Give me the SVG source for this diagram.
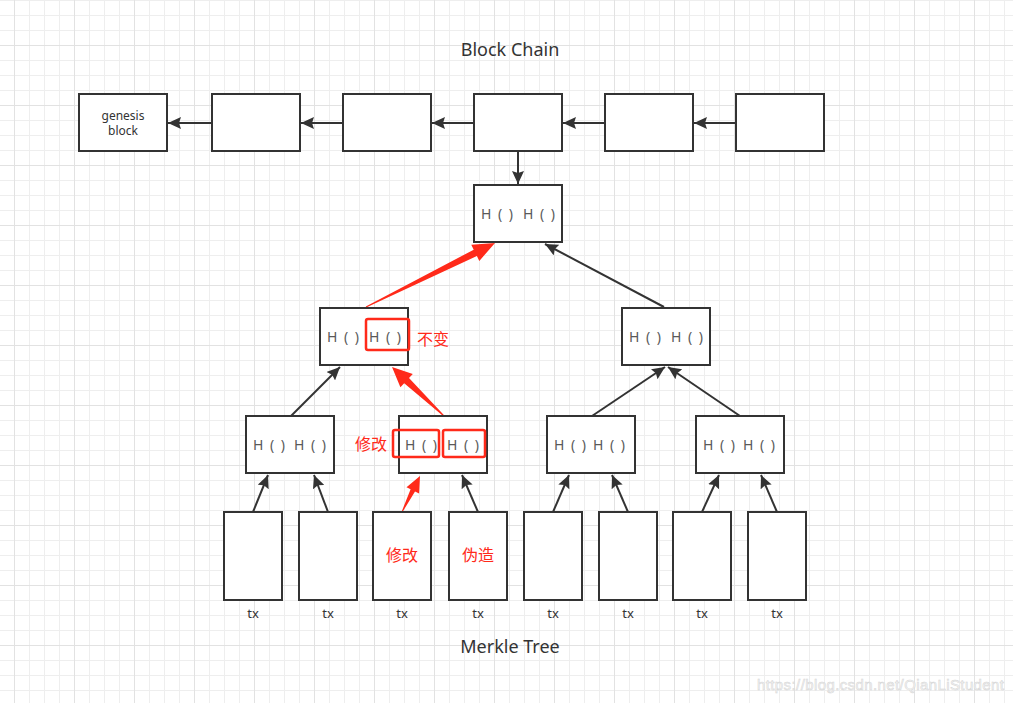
<svg xmlns="http://www.w3.org/2000/svg" width="1013" height="703" viewBox="0 0 1013 703">
<defs>
<pattern id="minor" patternUnits="userSpaceOnUse" x="14" y="0" width="15" height="15"><path d="M0.5 0V15M0 0.5H15" stroke="#eeeeee" stroke-width="1" fill="none"/></pattern>
<pattern id="major" patternUnits="userSpaceOnUse" x="74" y="45" width="60" height="60"><path d="M0.5 0V60M0 0.5H60" stroke="#e2e2e2" stroke-width="1" fill="none"/></pattern>
<marker id="ah" markerUnits="userSpaceOnUse" markerWidth="14" markerHeight="12" refX="13" refY="6" orient="auto"><path d="M0,0 L13,6 L0,12 L2,6 z" fill="#333"/></marker>
<style>
.box{fill:#fff;stroke:#333;stroke-width:2}
.hb{fill:none;stroke:#ff2a1a;stroke-width:2.5}
.ln{stroke:#333;stroke-width:2;fill:none;marker-end:url(#ah)}
.red{fill:#ff2a1a}
.h{font-family:"Noto Sans","Liberation Sans",sans-serif;font-size:14px;fill:#5a5a5a;letter-spacing:1.5px}
.t{font-family:"Noto Sans","Liberation Sans",sans-serif;fill:#333;text-anchor:middle}
.cn{font-family:"Noto Sans CJK SC",sans-serif;font-size:16px;fill:#ff2a1a}
</style>
</defs>
<rect width="1013" height="703" fill="#fff"/>
<rect width="1013" height="703" fill="url(#minor)"/>
<rect width="1013" height="703" fill="url(#major)"/>

<text class="t" x="510" y="56" font-size="18">Block Chain</text>
<text class="t" x="510" y="653" font-size="18">Merkle Tree</text>

<g id="connectors">
<line class="ln" x1="212" y1="123" x2="168" y2="123"/>
<line class="ln" x1="343" y1="123" x2="301" y2="123"/>
<line class="ln" x1="474" y1="123" x2="432" y2="123"/>
<line class="ln" x1="605" y1="123" x2="563" y2="123"/>
<line class="ln" x1="736" y1="123" x2="694" y2="123"/>
<line class="ln" x1="518" y1="152" x2="518" y2="184"/>
<line class="ln" x1="664" y1="307" x2="545" y2="244"/>
<line class="ln" x1="291" y1="416" x2="340" y2="367"/>
<line class="ln" x1="592" y1="416" x2="665" y2="367"/>
<line class="ln" x1="740" y1="416" x2="668" y2="367"/>
<line class="ln" x1="253" y1="512" x2="268" y2="475"/>
<line class="ln" x1="328" y1="512" x2="314" y2="475"/>
<line class="ln" x1="478" y1="512" x2="462" y2="475"/>
<line class="ln" x1="553" y1="512" x2="569" y2="475"/>
<line class="ln" x1="628" y1="512" x2="612" y2="475"/>
<line class="ln" x1="702" y1="512" x2="719" y2="475"/>
<line class="ln" x1="777" y1="512" x2="761" y2="475"/>
<polygon class="red" points="366.2,307.4 476.9,255.9 479.3,260.9 495,243 471.3,244.7 473.7,249.7 365.8,306.6"/>
<polygon class="red" points="444.3,415.6 409.0,378.1 412.8,374.1 392,367 400.4,387.3 404.2,383.3 443.7,416.4"/>
<polygon class="red" points="402.4,512.2 415.0,491.4 419.1,493.4 420,476 406.5,487.2 410.6,489.2 401.6,511.8"/>
</g>

<g id="genesis"><rect class="box" x="79" y="94" width="88" height="57"/><text class="t" x="123" y="120" font-size="12">genesis</text><text class="t" x="123" y="135" font-size="12">block</text></g>
<g id="block2"><rect class="box" x="212" y="94" width="88" height="57"/></g>
<g id="block3"><rect class="box" x="343" y="94" width="88" height="57"/></g>
<g id="block4"><rect class="box" x="474" y="94" width="88" height="57"/></g>
<g id="block5"><rect class="box" x="605" y="94" width="88" height="57"/></g>
<g id="block6"><rect class="box" x="736" y="94" width="88" height="57"/></g>

<g id="root"><rect class="box" x="474" y="185" width="88" height="57"/><text class="h" x="481" y="219">H ( )</text><text class="h" x="523" y="219">H ( )</text></g>

<g id="l2left"><rect class="box" x="320" y="308" width="88" height="57"/><text class="h" x="327" y="342">H ( )</text><text class="h" x="369" y="342">H ( )</text><rect class="hb" x="366" y="319" width="43" height="31" rx="2"/><text class="cn" x="417" y="345">不变</text></g>
<g id="l2right"><rect class="box" x="622" y="308" width="88" height="57"/><text class="h" x="629" y="342">H ( )</text><text class="h" x="671" y="342">H ( )</text></g>

<g id="l3a"><rect class="box" x="246" y="416" width="88" height="57"/><text class="h" x="253" y="450">H ( )</text><text class="h" x="294" y="450">H ( )</text></g>
<g id="l3b"><rect class="box" x="399" y="416" width="88" height="57"/><text class="h" x="405" y="450">H ( )</text><text class="h" x="447" y="450">H ( )</text><rect class="hb" x="393" y="430" width="46" height="27" rx="2"/><rect class="hb" x="443" y="430" width="42" height="27" rx="2"/><text class="cn" x="355" y="450">修改</text></g>
<g id="l3c"><rect class="box" x="547" y="416" width="88" height="57"/><text class="h" x="554" y="450">H ( )</text><text class="h" x="593" y="450">H ( )</text></g>
<g id="l3d"><rect class="box" x="696" y="416" width="88" height="57"/><text class="h" x="703" y="450">H ( )</text><text class="h" x="743" y="450">H ( )</text></g>

<g id="tx1"><rect class="box" x="224" y="512" width="58" height="88"/><text class="t" x="253" y="618" font-size="13">tx</text></g>
<g id="tx2"><rect class="box" x="299" y="512" width="58" height="88"/><text class="t" x="328" y="618" font-size="13">tx</text></g>
<g id="tx3"><rect class="box" x="373" y="512" width="58" height="88"/><text class="cn" x="402" y="561" text-anchor="middle">修改</text><text class="t" x="402" y="618" font-size="13">tx</text></g>
<g id="tx4"><rect class="box" x="449" y="512" width="58" height="88"/><text class="cn" x="478" y="561" text-anchor="middle">伪造</text><text class="t" x="478" y="618" font-size="13">tx</text></g>
<g id="tx5"><rect class="box" x="524" y="512" width="58" height="88"/><text class="t" x="553" y="618" font-size="13">tx</text></g>
<g id="tx6"><rect class="box" x="599" y="512" width="58" height="88"/><text class="t" x="628" y="618" font-size="13">tx</text></g>
<g id="tx7"><rect class="box" x="673" y="512" width="58" height="88"/><text class="t" x="702" y="618" font-size="13">tx</text></g>
<g id="tx8"><rect class="box" x="748" y="512" width="58" height="88"/><text class="t" x="777" y="618" font-size="13">tx</text></g>

<text x="757" y="690" font-family="Liberation Sans, sans-serif" font-size="15" textLength="247" fill="#f6f6f6" stroke="#d4d4d4" stroke-width="0.5">https://blog.csdn.net/QianLiStudent</text>
</svg>
